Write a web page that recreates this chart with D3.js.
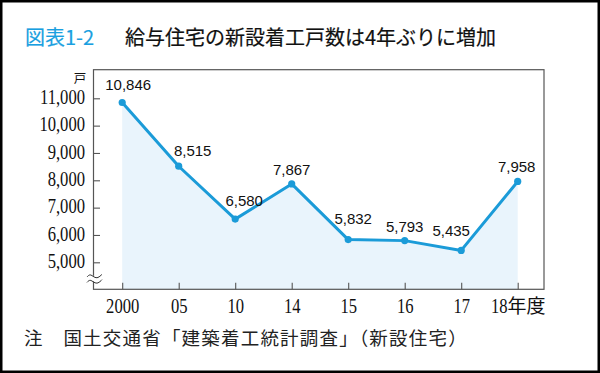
<!DOCTYPE html>
<html><head><meta charset="utf-8">
<script src="https://cdn.jsdelivr.net/npm/d3@7"></script>
<style>
html,body{margin:0;padding:0;background:#fff;}
svg{display:block;}
</style></head>
<body>
<svg id="chart" width="600" height="373"></svg>
<script>
// ---- data ----
const categories = ["2000","05","10","14","15","16","17","18年度"];
const values = [10846, 8515, 6580, 7867, 5832, 5793, 5435, 7958];
const valueLabels = ["10,846","8,515","6,580","7,867","5,832","5,793","5,435","7,958"];
const yTicks = [5000, 6000, 7000, 8000, 9000, 10000, 11000];
const unitLabel = "戸";
const figNo = "図表1-2";
const title = "給与住宅の新設着工戸数は4年ぶりに増加";
const note = "注　国土交通省「建築着工統計調査」（新設住宅）";
// label placement (layout only)
const labelDx = [6, 14, 9, 0, 5, 0, -10, -1];
const labelDy = [-13, -10.5, -13, -9, -16, -8.5, -14.7, -9.2];

const svg = d3.select("#chart");
const blue = "#1b9bd8";
const serif = "'Liberation Serif','Times New Roman',serif";
const cjk = "'Noto Sans CJK JP',sans-serif";

// outer border
svg.append("rect").attr("x",1.25).attr("y",1.25).attr("width",597.5).attr("height",370.5)
  .attr("fill","#fff").attr("stroke","#000").attr("stroke-width",2.5);

// titles
svg.append("text").attr("x",25).attr("y",45).attr("font-family",cjk).attr("font-size",20)
  .attr("fill","#1a9fe0").attr("stroke","#1a9fe0").attr("stroke-width",0.2).text(figNo);
svg.append("text").attr("x",125).attr("y",45).attr("font-family",cjk).attr("font-size",20)
  .attr("fill","#111").attr("stroke","#111").attr("stroke-width",0.2).text(title);

const plot = {left:93.5, top:69.7, right:544, bottom:289.3};
const x = d3.scalePoint().domain(categories).range([122.2, 517.7]);
const y = d3.scaleLinear().domain([5000, 11000]).range([262.3, 98.3]);

// area fill
const area = d3.area().x((d,i)=>x(categories[i])).y0(plot.bottom).y1(d=>y(d));
svg.append("path").datum(values).attr("d",area).attr("fill","#e9f4fc");

// frame
svg.append("rect").attr("x",plot.left).attr("y",plot.top)
  .attr("width",plot.right-plot.left).attr("height",plot.bottom-plot.top)
  .attr("fill","none").attr("stroke","#555").attr("stroke-width",1.2);

// y axis
const gy = svg.append("g").attr("transform",`translate(${plot.left},0)`)
  .call(d3.axisLeft(y).tickValues(yTicks).tickSize(-6.5).tickFormat(d3.format(",")));
gy.select(".domain").remove();
gy.selectAll(".tick line").attr("stroke","#555").attr("stroke-width",1.1);
gy.selectAll(".tick text").attr("x",0).attr("dy",null).attr("y",0)
  .attr("transform","translate(-8.5,5.2) scale(0.83,1)")
  .attr("font-family",serif).attr("font-size",20).attr("fill","#111").attr("text-anchor","end");

// unit
svg.append("text").attr("x",80).attr("y",83).attr("text-anchor","middle")
  .attr("font-family",cjk).attr("font-size",12.5).attr("fill","#111").text(unitLabel);

// axis break
svg.append("rect").attr("x",90).attr("y",275.8).attr("width",8).attr("height",5.6).attr("fill","#fff");
const wave = d3.line().curve(d3.curveBasis);
[275.8, 281.2].forEach(yy=>{
  svg.append("path").attr("d",wave([[87,yy+1.2],[90,yy-2],[94,yy+1.5],[98,yy+2.5],[102,yy-1.5]]))
    .attr("fill","none").attr("stroke","#333").attr("stroke-width",1);
});

// x axis
const gx = svg.append("g").attr("transform",`translate(0,${plot.bottom})`)
  .call(d3.axisBottom(x).tickSize(-6.5).tickFormat(d=>d.match(/^\d+/)[0]));
gx.select(".domain").remove();
gx.selectAll(".tick line").attr("stroke","#555").attr("stroke-width",1.1);
gx.selectAll(".tick").each(function(d){
  const g = d3.select(this);
  const t = g.select("text").attr("y",0).attr("dy",null)
    .attr("font-family",serif).attr("font-size",20).attr("fill","#111");
  const suffix = d.replace(/^\d+/, "");
  if(!suffix){
    t.attr("transform","translate(0,23.4) scale(0.83,1)").attr("text-anchor","middle");
  } else {
    const s = g.append("text").attr("y",23.4).attr("font-family",cjk).attr("font-size",19)
      .attr("fill","#111").attr("text-anchor","start").text(suffix);
    t.attr("text-anchor","end");
    const numW = t.node().getComputedTextLength()*0.83;
    const sufW = s.node().getComputedTextLength();
    const split = (numW - sufW)/2;
    t.attr("transform",`translate(${split},23.4) scale(0.83,1)`);
    s.attr("x", split);
  }
});

// line
const line = d3.line().x((d,i)=>x(categories[i])).y(d=>y(d));
svg.append("path").datum(values).attr("d",line).attr("fill","none")
  .attr("stroke",blue).attr("stroke-width",3).attr("stroke-linejoin","round");
svg.selectAll("circle.pt").data(values).enter().append("circle")
  .attr("cx",(d,i)=>x(categories[i])).attr("cy",d=>y(d)).attr("r",3.6).attr("fill",blue);

// value labels
svg.selectAll("text.vl").data(values).enter().append("text")
  .attr("x",(d,i)=>x(categories[i])+labelDx[i]).attr("y",(d,i)=>y(d)+labelDy[i])
  .attr("text-anchor","middle").attr("font-family","'Liberation Sans',Arial,sans-serif")
  .attr("font-size",15).attr("fill","#111").text((d,i)=>valueLabels[i]);

// note
svg.append("text").attr("x",24).attr("y",345).attr("font-family",cjk).attr("font-size",18.5)
  .attr("letter-spacing",1.2).attr("fill","#222").text(note);
</script>
</body></html>
